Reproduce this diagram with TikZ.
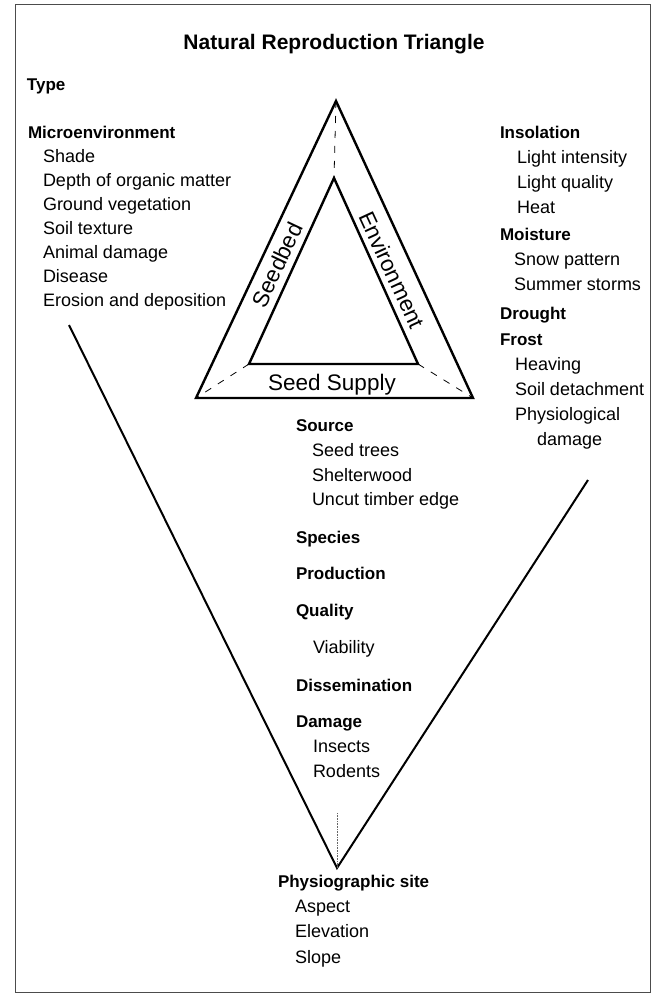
\documentclass[tikz,border=0pt]{standalone}
\usepackage{fontspec}
\setmainfont{Liberation Sans}
\begin{document}
\begin{tikzpicture}[x=1pt,y=-1pt,
  every node/.style={inner sep=0pt, outer sep=0pt},
  itm/.style={anchor=west, font=\fontsize{18}{20}\selectfont, text height=12.9pt, text depth=0pt},
  hd/.style={anchor=west, font=\fontsize{17}{20}\selectfont\bfseries, text height=12.2pt, text depth=0pt},
  ttl/.style={font=\fontsize{21}{24}\selectfont\bfseries, text height=15pt, text depth=0pt},
  tlab/.style={font=\fontsize{22.5}{24}\selectfont, text height=16pt, text depth=0pt},
  tri/.style={line width=2.4pt, line join=miter},
  conn/.style={line width=0.8pt, dash pattern=on 7pt off 8pt},
  vline/.style={line width=2pt},
  frame/.style={line width=0.8pt, draw=black!70},
  siteline/.style={line width=0.6pt, draw=black!60, densely dotted}
]
\useasboundingbox (0,0) rectangle (662,994);
\draw[frame] (15,4) rectangle (650,992);

% title
\node[ttl] (title) at (334,42) {Natural Reproduction Triangle};
\node[hd] (type) at (27,84) {Type};

% triangle corners
\coordinate (oa) at (336,101);
\coordinate (ol) at (196,398);
\coordinate (or) at (473,398);
\coordinate (ia) at (334,178);
\coordinate (il) at (249,364);
\coordinate (ir) at (418,364);
\draw[tri] (oa) -- (ol) -- (or) -- cycle;
\draw[tri] (ia) -- (il) -- (ir) -- cycle;
\draw[conn] (oa) -- (ia);
\draw[conn] (il) -- (ol);
\draw[conn] (ir) -- (or);
\node[tlab, rotate=64.8] (seedbed) at (277,265) {Seedbed};
\node[tlab, rotate=-65.2] (envir) at (392,270) {Environment};
\node[tlab] (supply) at (332,382) {Seed Supply};

% left column
\node[hd] (micro) at (28,132) {Microenvironment};
\node[itm] (shade) at (43,156) {Shade};
\node[itm] (depth) at (43,180) {Depth of organic matter};
\node[itm] (ground) at (43,204) {Ground vegetation};
\node[itm] (soil) at (43,228) {Soil texture};
\node[itm] (animal) at (43,252) {Animal damage};
\node[itm] (disease) at (43,276) {Disease};
\node[itm] (erosion) at (43,300) {Erosion and deposition};

% right column
\node[hd] (insol) at (500,132) {Insolation};
\node[itm] (lint) at (517,157) {Light intensity};
\node[itm] (lqual) at (517,182) {Light quality};
\node[itm] (heat) at (517,207) {Heat};
\node[hd] (moist) at (500,234) {Moisture};
\node[itm] (snow) at (514,259) {Snow pattern};
\node[itm] (summer) at (514,284) {Summer storms};
\node[hd] (drought) at (500,313) {Drought};
\node[hd] (frost) at (500,339) {Frost};
\node[itm] (heav) at (515,364) {Heaving};
\node[itm] (soild) at (515,389) {Soil detachment};
\node[itm] (physio) at (515,414) {Physiological};
\node[itm] (dmg) at (537,439) {damage};

% middle column
\node[hd] (source) at (296,425) {Source};
\node[itm] (seedtr) at (312,450) {Seed trees};
\node[itm] (shelter) at (312,475) {Shelterwood};
\node[itm] (uncut) at (312,499) {Uncut timber edge};
\node[hd] (species) at (296,537) {Species};
\node[hd] (prod) at (296,573) {Production};
\node[hd] (qual) at (296,610) {Quality};
\node[itm] (viab) at (313,647) {Viability};
\node[hd] (dissem) at (296,685) {Dissemination};
\node[hd] (damage) at (296,721) {Damage};
\node[itm] (insects) at (313,746) {Insects};
\node[itm] (rodents) at (313,771) {Rodents};

% bottom
\node[hd] (site) at (278,881) {Physiographic site};
\node[itm] (aspect) at (295,906) {Aspect};
\node[itm] (elev) at (295,931) {Elevation};
\node[itm] (slope) at (295,957) {Slope};

% V lines
\coordinate (vl) at (69,325);
\coordinate (vr) at (588,480);
\coordinate (vb) at (337,868);
\coordinate (vt) at (337,813);
\draw[vline] (vl) -- (vb) -- (vr);
\draw[siteline] (vt) -- (vb);
\end{tikzpicture}
\end{document}
